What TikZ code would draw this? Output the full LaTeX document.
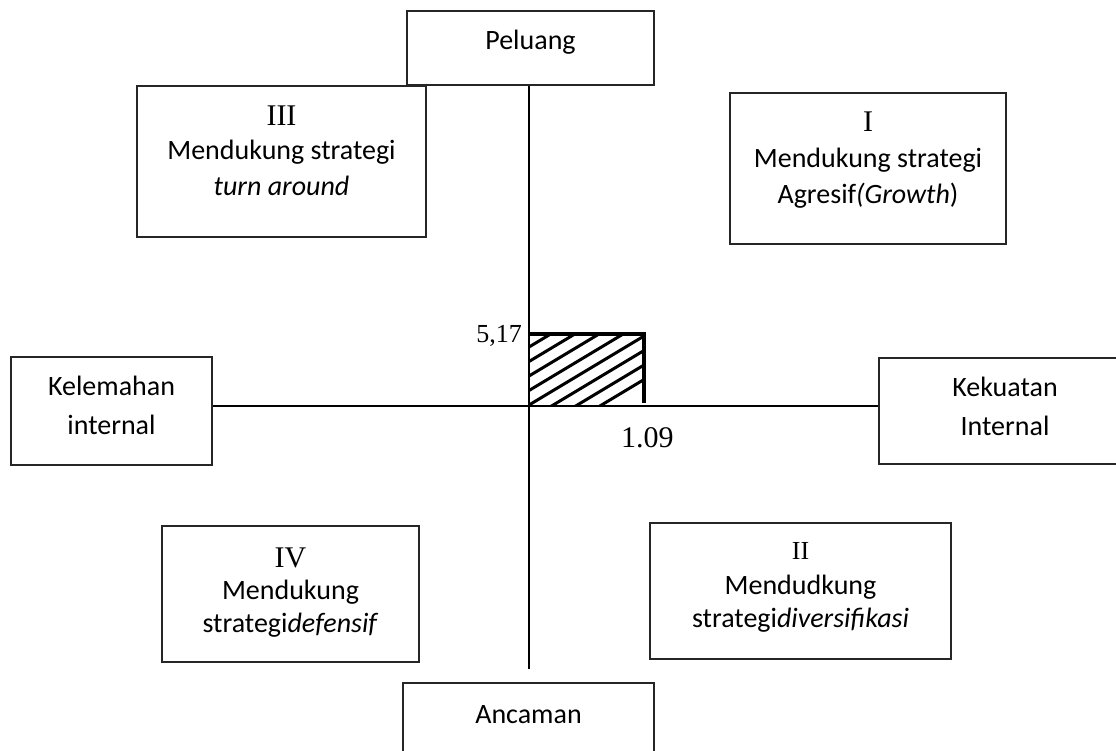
\documentclass[tikz,border=0pt]{standalone}
\usepackage{fontspec}
\setmainfont{Carlito}
\newfontfamily\tnr{Liberation Serif}
\begin{document}
\begin{tikzpicture}[x=1pt,y=-1pt,
 box/.style={draw=black!85,line width=1.3pt,inner sep=0pt},
 lbl/.style={font=\fontsize{28}{36}\selectfont,anchor=base,inner sep=0pt},
 num/.style={font=\tnr\fontsize{30}{36}\selectfont,anchor=base,inner sep=0pt},
 axisline/.style={line width=2pt},
 hatchline/.style={line width=3pt},
 edgeline/.style={line width=3.5pt}]
\useasboundingbox (0,0) rectangle (1116,751);
% boxes
\node[box,minimum width=247pt,minimum height=74pt] (pel) at (530.5,48) {};
\node[lbl] (pelt) at (530.5,50) {Peluang};
\node[box,minimum width=251pt,minimum height=74pt] (anc) at (528.5,720) {};
\node[lbl] (anct) at (528.5,723) {Ancaman};
\node[box,minimum width=201pt,minimum height=108pt] (kel) at (111.5,411) {};
\node[lbl] (kela) at (111.5,395) {Kelemahan};
\node[lbl] (kelb) at (111.5,434) {internal};
\node[box,minimum width=252pt,minimum height=106pt] (kek) at (1005,411) {};
\node[lbl] (keka) at (1005,396) {Kekuatan};
\node[lbl] (kekb) at (1005,435) {Internal};
% quadrant III
\node[box,minimum width=289pt,minimum height=151pt] (q3) at (281.5,161.5) {};
\node[num] (q3n) at (281.5,126) {III};
\node[lbl] (q3a) at (281.5,160) {Mendukung strategi};
\node[lbl] (q3b) at (281.5,196) {\textit{turn around}};
% quadrant I
\node[box,minimum width=276pt,minimum height=151pt] (q1) at (868,168.5) {};
\node[num] (q1n) at (868,132) {I};
\node[lbl] (q1a) at (868,168) {Mendukung strategi};
\node[lbl] (q1b) at (868,204) {Agresif\textit{(Growth})};
% quadrant IV
\node[box,minimum width=257pt,minimum height=136pt] (q4) at (290.5,594) {};
\node[num] (q4n) at (290.5,567) {IV};
\node[lbl] (q4a) at (290.5,599) {Mendukung};
\node[lbl] (q4b) at (290.5,632) {strategi\textit{defensif}};
% quadrant II
\node[box,minimum width=301pt,minimum height=136pt] (q2) at (800.5,591) {};
\node[num,font=\tnr\fontsize{26}{32}\selectfont] (q2n) at (800.5,559) {II};
\node[lbl] (q2a) at (800.5,594) {Mendudkung};
\node[lbl] (q2b) at (800.5,627) {strategi\textit{diversifikasi}};
% axes
\coordinate (O) at (529,406);
\coordinate (vend) at (529,669);
\draw[axisline] (O |- pel.south) -- (vend);
\draw[axisline] (kel.east |- O) -- (kek.west |- O);
% hatched area
\coordinate (H) at (644,334);
\coordinate (HL) at (529,334);
\coordinate (HB) at (644,403);
\begin{scope}
\clip (O) rectangle (H);
\foreach \k in {0,...,7} {\draw[hatchline] (529,{347+14.5*\k}) -- ++(150,-90);}
\end{scope}
\draw[edgeline] (HL) -- (H) -- (HB);
\node[num,font=\tnr\fontsize{26}{32}\selectfont,anchor=base east] (v1) at (522,342) {5,17};
\node[num,anchor=base west] (v2) at (621,447) {1.09};
\end{tikzpicture}
\end{document}
